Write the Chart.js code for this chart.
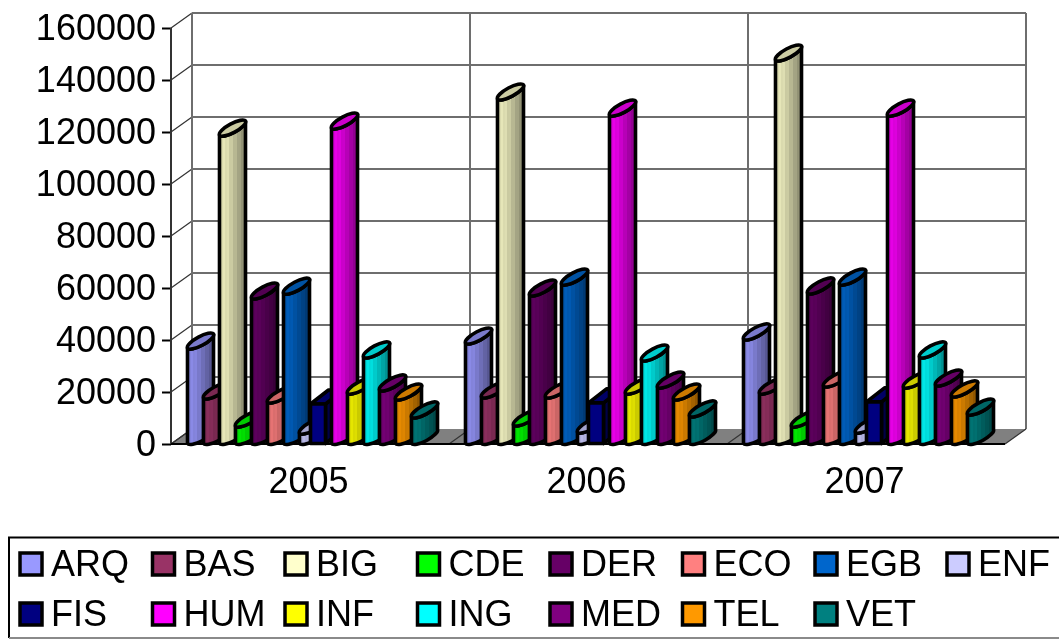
<!DOCTYPE html>
<html><head><meta charset="utf-8">
<style>html,body{margin:0;padding:0;background:#fff}#w{width:1059px;height:639px;position:relative}</style>
<script src="https://cdn.jsdelivr.net/npm/chart.js@4/dist/chart.umd.js"></script>
</head><body><div id="w"><canvas id="c" width="1059" height="639"></canvas></div>
<script>
const years = ['2005','2006','2007'];
const ARQ = [36900,38850,40400];
const BAS = [17700,18100,19600];
const BIG = [118800,132700,147700];
const CDE = [6900,7300,6900];
const DER = [56150,57300,58100];
const ECO = [16150,18100,22300];
const EGB = [58000,61500,61500];
const ENF = [4200,4600,4600];
const FIS = [15400,15800,16200];
const HUM = [121500,126500,126500];
const INF = [19600,19600,21900];
const ING = [33500,32300,33500];
const MED = [20800,21900,22700];
const TEL = [17300,17300,18500];
const VET = [10400,10800,11500];
const seriesNames = ['ARQ','BAS','BIG','CDE','DER','ECO','EGB','ENF','FIS','HUM','INF','ING','MED','TEL','VET'];
const seriesValues = [ARQ,BAS,BIG,CDE,DER,ECO,EGB,ENF,FIS,HUM,INF,ING,MED,TEL,VET];
const seriesColors = ['#9999ff','#993366','#ffffcc','#00ff00','#660066','#ff8080','#0066cc','#ccccff','#000080','#ff00ff','#ffff00','#00ffff','#800080','#ff9900','#008080'];
const boxColor = seriesColors[seriesNames.indexOf('FIS')];
const FONT = '"Liberation Sans", Arial, sans-serif';

function shade(hex,f){
  const n=parseInt(hex.slice(1),16);
  const c=[(n>>16)&255,(n>>8)&255,n&255].map(v=>Math.round(v*f));
  return `rgb(${c[0]},${c[1]},${c[2]})`;
}
const DX=26, DY=-14, MINOR=4.5, SHIFT=-2.5;
Chart.BarElement.prototype.draw=function(ctx){
  const color=this.options.backgroundColor;
  const x0=this.x-this.width/2+SHIFT, top=this.y, base=this.base;
  ctx.save();
  ctx.lineWidth=3.6; ctx.lineJoin='round'; ctx.strokeStyle='#000';
  if(color===boxColor){
    const l=x0-5,w=15,dx=18,dy=-14;
    ctx.beginPath();ctx.moveTo(l+w,top);ctx.lineTo(l+w+dx,top+dy);ctx.lineTo(l+w+dx,base+dy);ctx.lineTo(l+w,base);ctx.closePath();
    ctx.fillStyle=shade(color,0.55);ctx.fill();ctx.stroke();
    ctx.beginPath();ctx.moveTo(l,top);ctx.lineTo(l+dx,top+dy);ctx.lineTo(l+w+dx,top+dy);ctx.lineTo(l+w,top);ctx.closePath();
    ctx.fillStyle=shade(color,0.8);ctx.fill();ctx.stroke();
    ctx.beginPath();ctx.rect(l,top,w,base-top);ctx.fillStyle=color;ctx.fill();ctx.stroke();
  } else {
    const a=Math.atan2(DY,DX), R=Math.hypot(DX,DY)/2;
    const cxx=x0+DX/2;
    const g=ctx.createLinearGradient(x0,0,x0+DX,0);
    const bands=13;
    for(let i=0;i<bands;i++){
      const t=i/bands, t2=(i+1)/bands;
      const f=(t<0.25?0.9:0.9-(t-0.25)*0.5)*(i%2?0.95:1);
      const col=shade(color,f);
      g.addColorStop(t,col);g.addColorStop(t2-0.001,col);
    }
    ctx.beginPath();
    ctx.moveTo(x0,top);
    ctx.lineTo(x0,base);
    ctx.ellipse(cxx,base+DY/2,R,MINOR,a,Math.PI,0,true);
    ctx.lineTo(x0+DX,top+DY);
    ctx.ellipse(cxx,top+DY/2,R,MINOR,a,0,Math.PI,false);
    ctx.closePath();
    ctx.fillStyle=g;ctx.fill();ctx.stroke();
    ctx.beginPath();
    ctx.ellipse(cxx,top+DY/2,R,MINOR,a,0,Math.PI*2);
    ctx.fillStyle=shade(color,0.8);ctx.fill();ctx.stroke();
  }
  ctx.restore();
};

const wallDX=21, wallDY=-15;
const walls={id:'walls',beforeDatasetsDraw(chart){
  const {ctx,scales:{x,y}}=chart;
  const b=y.getPixelForValue(0),t=y.getPixelForValue(160000),l=x.left,r=x.right;
  ctx.save();
  ctx.fillStyle='#808080';
  ctx.beginPath();ctx.moveTo(l,b);ctx.lineTo(l+wallDX,b+wallDY);ctx.lineTo(r+wallDX,b+wallDY);ctx.lineTo(r,b);ctx.closePath();ctx.fill();
  y.ticks.forEach(tk=>{
    const p=y.getPixelForValue(tk.value);
    ctx.strokeStyle='#333';ctx.lineWidth=1.2;
    ctx.beginPath();ctx.moveTo(l,p);ctx.lineTo(l+wallDX,p+wallDY);ctx.stroke();
    if(tk.value>0){
      ctx.strokeStyle='#6e6e6e';ctx.lineWidth=2;
      ctx.beginPath();ctx.moveTo(l+wallDX,p+wallDY);ctx.lineTo(r+wallDX,p+wallDY);ctx.stroke();
    }
  });
  const step=(r-l)/years.length;
  for(let i=0;i<=years.length;i++){
    const px=l+i*step;
    ctx.strokeStyle='#6e6e6e';ctx.lineWidth=2;
    ctx.beginPath();ctx.moveTo(px+wallDX,t+wallDY);ctx.lineTo(px+wallDX,b+wallDY);ctx.stroke();
    ctx.strokeStyle='#333';ctx.lineWidth=1.2;
    ctx.beginPath();ctx.moveTo(px,b);ctx.lineTo(px+wallDX,b+wallDY);ctx.stroke();
  }
  ctx.strokeStyle='#333';ctx.lineWidth=2;
  ctx.beginPath();ctx.moveTo(l,t);ctx.lineTo(l,b);ctx.stroke();
  ctx.strokeStyle='#000';
  ctx.beginPath();ctx.moveTo(l,b);ctx.lineTo(r,b);ctx.stroke();
  ctx.restore();
  // later series stand in front of earlier ones
  chart.getSortedVisibleDatasetMetas().forEach(m=>m.controller.draw());
  return false;
}};

const legendCols=[19,151.5,284,416.5,549,681.5,814,946];
const legendRows=[552,602];
const legendBox={id:'legendBox',afterDraw(chart){
  const {ctx}=chart;
  ctx.save();
  ctx.strokeStyle='#000';ctx.lineWidth=2;
  ctx.beginPath();ctx.moveTo(1059,537.5);ctx.lineTo(9,537.5);ctx.lineTo(9,638);ctx.stroke();
  ctx.strokeStyle='#8a8a8a';
  ctx.beginPath();ctx.moveTo(9,638);ctx.lineTo(1059,638);ctx.stroke();
  ctx.font='36px '+FONT;ctx.textBaseline='alphabetic';ctx.textAlign='left';
  chart.data.datasets.forEach((d,i)=>{
    const cx=legendCols[i<8?i:i-8], ry=legendRows[i<8?0:1];
    ctx.fillStyle=d.backgroundColor;ctx.strokeStyle='#000';ctx.lineWidth=3.5;
    ctx.fillRect(cx+1,ry+1,22,22);ctx.strokeRect(cx+1,ry+1,22,22);
    ctx.fillStyle='#000';
    ctx.fillText(d.label,cx+32,ry+23.5);
  });
  ctx.restore();
}};

new Chart(document.getElementById('c'),{
  type:'bar',
  data:{labels:years,datasets:seriesNames.map((n,i)=>({label:n,data:seriesValues[i],backgroundColor:seriesColors[i]}))},
  options:{
    responsive:false,animation:false,
    layout:{padding:{top:28,right:54,left:0,bottom:0}},
    plugins:{legend:{display:false},title:{display:false},tooltip:{enabled:false}},
    datasets:{bar:{categoryPercentage:240/278,barPercentage:1}},
    scales:{
      x:{
        grid:{display:false},border:{display:false},
        ticks:{color:'#000',font:{family:FONT,size:36},padding:9,maxRotation:0,labelOffset:-1.5},
        afterFit(s){s.height=195;}
      },
      y:{
        min:0,max:160000,
        grid:{drawOnChartArea:false,tickLength:9,tickColor:'#000',tickWidth:2},
        border:{display:false},
        ticks:{stepSize:20000,color:'#000',font:{family:FONT,size:36},padding:6,labelOffset:2,callback:v=>String(v)},
        afterFit(s){s.width=171;}
      }
    }
  },
  plugins:[walls,legendBox]
});
</script></body></html>
